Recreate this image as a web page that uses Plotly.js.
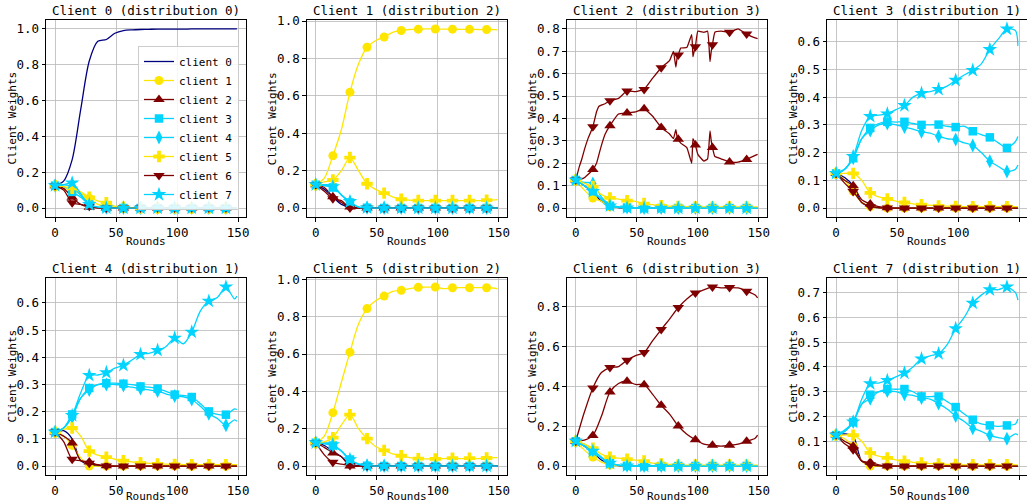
<!DOCTYPE html>
<html><head><meta charset="utf-8">
<script src="https://cdn.plot.ly/plotly-3.0.1.min.js"></script>
<style>html,body{margin:0;padding:0;background:#fff}#chart{width:1027px;height:504px}</style>
</head><body><div id="chart"></div>
<script>
// ---- data (rounds sampled every 7, plus the last round) ----
const rounds = [0,7,14,21,28,35,42,49,56,63,70,77,84,91,98,105,112,119,126,133,140,147,149];
const clientNames = ['client 0','client 1','client 2','client 3','client 4','client 5','client 6','client 7'];
const clientDistribution = [0,2,3,1,1,2,3,1];
const subplotTitles = ['Client 0 (distribution 0)','Client 1 (distribution 2)','Client 2 (distribution 3)','Client 3 (distribution 1)',
                       'Client 4 (distribution 1)','Client 5 (distribution 2)','Client 6 (distribution 3)','Client 7 (distribution 1)'];
const yTickSteps = [0.2,0.2,0.1,0.1,0.1,0.2,0.2,0.1];
const xTickVals = [0,50,100,150];

const weightsClient0 = [
 [0.125,0.15,0.27,0.55,0.82,0.93,0.94,0.975,0.99,0.994,0.996,0.997,0.998,0.998,0.998,0.998,0.999,0.999,0.999,0.999,0.999,0.999,0.999],
 [0.125,0.115,0.10,0.08,0.055,0.02,0.01,0.005,0.002,0,0,0,0,0,0,0,0,0,0,0,0,0,0],
 [0.125,0.11,0.06,0.02,0.005,0.001,0,0,0,0,0,0,0,0,0,0,0,0,0,0,0,0,0],
 [0.125,0.12,0.09,0.06,0.02,0.005,0.001,0,0,0,0,0,0,0,0,0,0,0,0,0,0,0,0],
 [0.125,0.13,0.12,0.07,0.02,0.005,0.001,0,0,0,0,0,0,0,0,0,0,0,0,0,0,0,0],
 [0.125,0.12,0.11,0.09,0.06,0.04,0.03,0.01,0.005,0.002,0,0,0,0,0,0,0,0,0,0,0,0,0],
 [0.125,0.1,0.03,0.02,0.01,0.001,0,0,0,0,0,0,0,0,0,0,0,0,0,0,0,0,0],
 [0.125,0.13,0.14,0.08,0.02,0.005,0.001,0,0,0,0,0,0,0,0,0,0,0,0,0,0,0,0]
];
const weightsClient1 = [
 [0.125,0.1,0.06,0.02,0.005,0.001,0,0,0,0,0,0,0,0,0,0,0,0,0,0,0,0,0],
 [0.125,0.16,0.28,0.42,0.62,0.77,0.86,0.895,0.915,0.94,0.95,0.955,0.957,0.958,0.958,0.957,0.957,0.956,0.956,0.955,0.955,0.954,0.953],
 [0.125,0.11,0.06,0.03,0.005,0.001,0,0,0,0,0,0,0,0,0,0,0,0,0,0,0,0,0],
 [0.125,0.12,0.11,0.07,0.03,0.005,0.001,0,0,0,0,0,0,0,0,0,0,0,0,0,0,0,0],
 [0.125,0.125,0.12,0.07,0.03,0.005,0.001,0,0,0,0,0,0,0,0,0,0,0,0,0,0,0,0],
 [0.125,0.14,0.15,0.2,0.27,0.2,0.13,0.1,0.08,0.06,0.047,0.042,0.04,0.04,0.04,0.04,0.04,0.04,0.04,0.04,0.042,0.044,0.045],
 [0.125,0.09,0.05,0.04,0,0,0,0,0,0,0,0,0,0,0,0,0,0,0,0,0,0,0],
 [0.125,0.12,0.115,0.07,0.035,0.005,0.001,0,0,0,0,0,0,0,0,0,0,0,0,0,0,0,0]
];
const weightsClient2 = [
 [0.125,0.1,0.07,0.03,0.01,0.002,0,0,0,0,0,0,0,0,0,0,0,0,0,0,0,0,0],
 [0.125,0.08,0.045,0.03,0.005,0.003,0.002,0,0,0,0,0,0,0,0,0,0,0,0,0,0,0,0],
 [0.125,0.135,0.172,0.28,0.368,0.42,0.425,0.43,0.443,0.41,0.36,0.33,0.307,0.27,0.282,0.22,0.27,0.22,0.206,0.205,0.217,0.235,0.24],
 [0.125,0.1,0.075,0.04,0.01,0.005,0.002,0,0,0,0,0,0,0,0,0,0,0,0,0,0,0,0],
 [0.125,0.115,0.11,0.05,0.015,0.005,0.002,0,0,0,0,0,0,0,0,0,0,0,0,0,0,0,0],
 [0.125,0.11,0.096,0.06,0.045,0.04,0.033,0.03,0.02,0.015,0.01,0.008,0.007,0.006,0.005,0.005,0.005,0.005,0.005,0.005,0.005,0.005,0.005],
 [0.125,0.25,0.363,0.458,0.479,0.49,0.523,0.525,0.53,0.58,0.627,0.66,0.684,0.72,0.72,0.78,0.73,0.79,0.785,0.8,0.777,0.76,0.757],
 [0.125,0.1,0.075,0.04,0.01,0.003,0.001,0,0,0,0,0,0,0,0,0,0,0,0,0,0,0,0]
];
// finer reading of the two jagged curves of the "Client 2" panel
const client2DetailRounds = [0,3,5,7,10,14,17,19,21,24,28,35,42,49,56,63,70,77,80,82,83,84,86,91,95,96,97,98,100,105,108,110,111,112,114,119,126,133,140,147,149];
const client2DetailClient2 = [0.125,0.128,0.13,0.135,0.15,0.172,0.2,0.24,0.28,0.33,0.368,0.42,0.425,0.43,0.443,0.41,0.36,0.33,0.31,0.35,0.32,0.307,0.29,0.27,0.2,0.31,0.3,0.282,0.24,0.21,0.22,0.345,0.3,0.27,0.23,0.22,0.206,0.205,0.217,0.235,0.24];
const client2DetailClient6 = [0.125,0.187,0.22,0.26,0.31,0.363,0.43,0.455,0.46,0.466,0.479,0.49,0.523,0.52,0.53,0.58,0.627,0.66,0.70,0.63,0.67,0.684,0.715,0.717,0.775,0.676,0.70,0.72,0.79,0.785,0.79,0.654,0.70,0.73,0.785,0.79,0.785,0.8,0.777,0.76,0.757];

const weightsClient3 = [
 [0.125,0.11,0.08,0.02,0.005,0.001,0,0,0,0,0,0,0,0,0,0,0,0,0,0,0,0,0],
 [0.125,0.1,0.06,0.02,0.005,0.001,0,0,0,0,0,0,0,0,0,0,0,0,0,0,0,0,0],
 [0.125,0.1,0.08,0.03,0.015,0.005,0.001,0,0,0,0,0,0,0,0,0,0,0,0,0,0,0,0],
 [0.125,0.14,0.18,0.25,0.289,0.305,0.311,0.31,0.311,0.305,0.3,0.3,0.301,0.295,0.292,0.295,0.277,0.265,0.255,0.235,0.217,0.24,0.258],
 [0.125,0.14,0.18,0.25,0.28,0.3,0.305,0.3,0.292,0.285,0.275,0.27,0.259,0.25,0.247,0.235,0.226,0.2,0.169,0.15,0.132,0.14,0.155],
 [0.125,0.125,0.125,0.1,0.055,0.04,0.033,0.025,0.02,0.015,0.012,0.01,0.008,0.007,0.006,0.005,0.005,0.005,0.005,0.005,0.005,0.005,0.005],
 [0.125,0.09,0.06,0.02,0.005,0.001,0,0,0,0,0,0,0,0,0,0,0,0,0,0,0,0,0],
 [0.125,0.14,0.186,0.28,0.331,0.335,0.34,0.355,0.37,0.4,0.414,0.42,0.428,0.44,0.461,0.48,0.497,0.52,0.572,0.61,0.646,0.64,0.585]
];
const weightsClient4 = [
 [0.125,0.13,0.1,0.02,0.005,0.001,0,0,0,0,0,0,0,0,0,0,0,0,0,0,0,0,0],
 [0.125,0.11,0.076,0.03,0,0,0,0,0,0,0,0,0,0,0,0,0,0,0,0,0,0,0],
 [0.125,0.11,0.085,0.02,0.015,0.005,0.001,0,0,0,0,0,0,0,0,0,0,0,0,0,0,0,0],
 [0.125,0.14,0.19,0.25,0.287,0.3,0.305,0.305,0.303,0.3,0.293,0.29,0.285,0.275,0.263,0.26,0.254,0.23,0.201,0.19,0.189,0.21,0.208],
 [0.125,0.14,0.18,0.25,0.28,0.3,0.3,0.3,0.296,0.29,0.285,0.28,0.276,0.265,0.258,0.255,0.245,0.22,0.192,0.175,0.15,0.17,0.165],
 [0.125,0.135,0.14,0.11,0.055,0.04,0.033,0.025,0.02,0.015,0.012,0.01,0.008,0.007,0.006,0.005,0.005,0.005,0.005,0.005,0.005,0.005,0.005],
 [0.125,0.09,0.025,0.02,0.01,0.003,0,0,0,0,0,0,0,0,0,0,0,0,0,0,0,0,0],
 [0.125,0.14,0.186,0.27,0.334,0.335,0.344,0.36,0.371,0.39,0.411,0.415,0.426,0.44,0.471,0.45,0.493,0.57,0.607,0.62,0.659,0.615,0.625]
];
const weightsClient5 = [
 [0.125,0.11,0.08,0.05,0.01,0.002,0,0,0,0,0,0,0,0,0,0,0,0,0,0,0,0,0],
 [0.125,0.16,0.286,0.45,0.61,0.76,0.843,0.885,0.91,0.935,0.941,0.95,0.957,0.958,0.959,0.95,0.955,0.955,0.955,0.955,0.955,0.952,0.95],
 [0.125,0.1,0.07,0.05,0,0,0,0,0,0,0,0,0,0,0,0,0,0,0,0,0,0,0],
 [0.125,0.12,0.11,0.08,0.035,0.01,0.002,0,0,0,0,0,0,0,0,0,0,0,0,0,0,0,0],
 [0.125,0.125,0.11,0.08,0.03,0.01,0.002,0,0,0,0,0,0,0,0,0,0,0,0,0,0,0,0],
 [0.125,0.13,0.152,0.22,0.275,0.2,0.147,0.105,0.084,0.065,0.055,0.045,0.04,0.038,0.038,0.04,0.042,0.04,0.042,0.04,0.043,0.045,0.045],
 [0.125,0.06,0.02,0.01,0.003,0,0,0,0,0,0,0,0,0,0,0,0,0,0,0,0,0,0],
 [0.125,0.12,0.115,0.08,0.035,0.01,0.002,0,0,0,0,0,0,0,0,0,0,0,0,0,0,0,0]
];
const weightsClient6 = [
 [0.125,0.1,0.07,0.03,0.01,0.002,0,0,0,0,0,0,0,0,0,0,0,0,0,0,0,0,0],
 [0.125,0.08,0.045,0.02,0.005,0.002,0,0,0,0,0,0,0,0,0,0,0,0,0,0,0,0,0],
 [0.125,0.13,0.154,0.25,0.372,0.415,0.426,0.41,0.409,0.36,0.305,0.26,0.201,0.16,0.132,0.11,0.104,0.1,0.104,0.11,0.124,0.14,0.155],
 [0.125,0.1,0.075,0.04,0.015,0.005,0.001,0,0,0,0,0,0,0,0,0,0,0,0,0,0,0,0],
 [0.125,0.11,0.08,0.045,0.015,0.005,0.001,0,0,0,0,0,0,0,0,0,0,0,0,0,0,0,0],
 [0.125,0.11,0.09,0.06,0.045,0.04,0.035,0.03,0.025,0.015,0.01,0.008,0.006,0.005,0.005,0.005,0.005,0.005,0.005,0.005,0.005,0.005,0.005],
 [0.125,0.27,0.392,0.47,0.495,0.5,0.532,0.555,0.57,0.63,0.686,0.74,0.797,0.84,0.87,0.885,0.9,0.895,0.897,0.895,0.879,0.86,0.845],
 [0.125,0.1,0.075,0.04,0.015,0.005,0.001,0,0,0,0,0,0,0,0,0,0,0,0,0,0,0,0]
];
const weightsClient7 = [
 [0.125,0.13,0.12,0.02,0.005,0.001,0,0,0,0,0,0,0,0,0,0,0,0,0,0,0,0,0],
 [0.125,0.11,0.08,0.02,0,0,0,0,0,0,0,0,0,0,0,0,0,0,0,0,0,0,0],
 [0.125,0.1,0.08,0.02,0.015,0.005,0,0,0,0,0,0,0,0,0,0,0,0,0,0,0,0,0],
 [0.125,0.14,0.178,0.25,0.288,0.3,0.311,0.31,0.311,0.3,0.281,0.28,0.281,0.26,0.238,0.21,0.187,0.17,0.164,0.16,0.164,0.17,0.19],
 [0.125,0.14,0.178,0.25,0.272,0.3,0.303,0.3,0.29,0.285,0.275,0.27,0.252,0.23,0.202,0.18,0.153,0.14,0.124,0.115,0.11,0.13,0.125],
 [0.125,0.125,0.125,0.1,0.053,0.04,0.033,0.025,0.02,0.015,0.012,0.01,0.008,0.007,0.006,0.005,0.005,0.005,0.005,0.005,0.005,0.005,0.005],
 [0.125,0.09,0.066,0.02,0.005,0.001,0,0,0,0,0,0,0,0,0,0,0,0,0,0,0,0,0],
 [0.125,0.145,0.178,0.27,0.333,0.335,0.346,0.36,0.376,0.4,0.433,0.445,0.454,0.49,0.555,0.6,0.658,0.69,0.712,0.712,0.723,0.7,0.67]
];
const allWeights = [weightsClient0,weightsClient1,weightsClient2,weightsClient3,weightsClient4,weightsClient5,weightsClient6,weightsClient7];
// detailed overrides: panel index -> {series index -> [rounds, values]}
const detailSeries = {2: {2: [client2DetailRounds, client2DetailClient2], 6: [client2DetailRounds, client2DetailClient6]}};

// ---- styles ----
const distColors = ['#00007f','#00d4ff','#ffe600','#7f0000'];   // jet colormap at 0, 1/3, 2/3, 1
const clientSymbols = [null,'circle','triangle-up','square','diamond-tall','cross','triangle-down','star'];
const symbolSizes = [0,9,10,8.5,10,9.5,10,11];
const MARK_EVERY = 14;
const FONT = 'DejaVu Sans Mono, monospace';

const W = 1027, H = 504;
const colLeft = [46, 306.7, 566.7, 827];
const plotW = 200;
const rowTop = [20, 278];
const plotH = 197;
const roundsLabelY = [241, 496];
const px = v => v / W;
const py = v => 1 - v / H;

const traces = [];
const layout = {
  width: W, height: H,
  margin: {l:0, r:0, t:0, b:0},
  paper_bgcolor: '#ffffff', plot_bgcolor: '#ffffff',
  font: {family: FONT, color: '#000000', size: 12.5},
  showlegend: true,
  legend: {
    x: px(239), xanchor: 'right', y: py(46), yanchor: 'top',
    bgcolor: 'rgba(255,255,255,0.85)', bordercolor: '#cccccc', borderwidth: 1,
    font: {family: FONT, size: 11, color: '#000000'},
    tracegroupgap: 0, itemwidth: 30
  },
  annotations: []
};

allWeights.forEach((series, k) => {
  const row = Math.floor(k / 4), col = k % 4;
  const sfx = k === 0 ? '' : String(k + 1);
  const xa = 'xaxis' + sfx, ya = 'yaxis' + sfx;
  let lo = Infinity, hi = -Infinity;
  series.forEach(s => s.forEach(v => { lo = Math.min(lo, v); hi = Math.max(hi, v); }));
  const pad = 0.05 * (hi - lo);
  const x0 = colLeft[col], x1 = Math.min(W, colLeft[col] + plotW);
  const xc = colLeft[col] + plotW / 2;
  const yTop = rowTop[row], yBot = rowTop[row] + plotH;
  const axCommon = {
    showline: true, mirror: true, linecolor: '#000000', linewidth: 1,
    ticks: 'outside', ticklen: 3.5, tickwidth: 1, tickcolor: '#000000',
    showgrid: true, gridcolor: '#b8b8b8', gridwidth: 0.8, zeroline: false,
    tickfont: {family: FONT, size: 12.5, color: '#000000'}, fixedrange: true
  };
  layout[xa] = Object.assign({}, axCommon, {
    domain: [px(x0), px(x1)], anchor: 'y' + sfx,
    range: [-0.05 * 149, 149 * 1.05], tickmode: 'array', tickvals: xTickVals
  });
  layout[ya] = Object.assign({}, axCommon, {
    domain: [py(yBot), py(yTop)], anchor: 'x' + sfx,
    range: [lo - pad, hi + pad], tick0: 0, dtick: yTickSteps[k], tickformat: '.1f'
  });
  layout.annotations.push({
    text: subplotTitles[k], xref: 'paper', yref: 'paper',
    x: px(xc), y: py(yTop), xanchor: 'center', yanchor: 'bottom',
    yshift: 0, showarrow: false, font: {family: FONT, size: 12.5, color: '#000000'}
  });
  layout.annotations.push({
    text: 'Rounds', xref: 'paper', yref: 'paper',
    x: px(xc), y: py(roundsLabelY[row]), xanchor: 'center', yanchor: 'middle',
    showarrow: false, font: {family: FONT, size: 11, color: '#000000'}
  });
  layout.annotations.push({
    text: 'Client Weights', xref: 'paper', yref: 'paper', textangle: -90,
    x: px(x0 - 34), y: py((yTop + yBot) / 2), xanchor: 'center', yanchor: 'middle',
    showarrow: false, font: {family: FONT, size: 11, color: '#000000'}
  });

  series.forEach((vals, j) => {
    const color = distColors[clientDistribution[j]];
    const detail = detailSeries[k] && detailSeries[k][j];
    const xs = detail ? detail[0] : rounds;
    const ys = detail ? detail[1] : vals;
    const t = {
      type: 'scatter', x: xs, y: ys, xaxis: 'x' + sfx, yaxis: 'y' + sfx,
      name: clientNames[j], legendgroup: clientNames[j], showlegend: k === 0,
      mode: j === 0 ? 'lines' : 'lines+markers',
      line: {color: color, width: 1.3, shape: 'spline', smoothing: detail ? 0.35 : 0.8},
      hoverinfo: 'skip'
    };
    if (j > 0) {
      t.marker = {
        symbol: clientSymbols[j], size: symbolSizes[j],
        color: xs.map(r => (r % MARK_EVERY === 0 && r <= 140) ? color : 'rgba(0,0,0,0)'),
        line: {width: 0}
      };
    }
    traces.push(t);
  });
});

Plotly.newPlot('chart', traces, layout, {displayModeBar: false, staticPlot: true});
</script>
</body></html>
